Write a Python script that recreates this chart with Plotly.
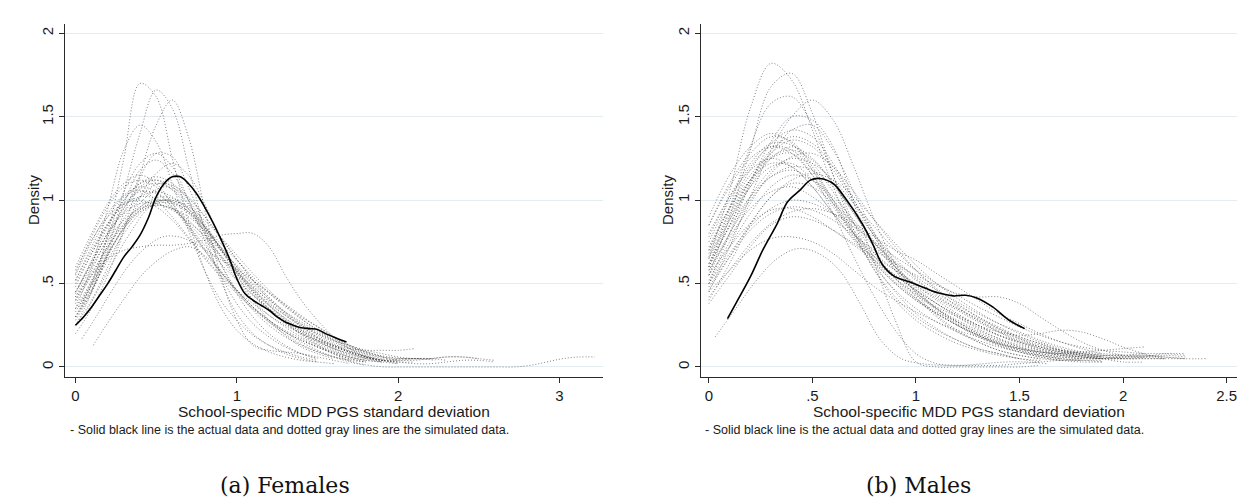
import plotly.graph_objects as go

# ---------------- data ----------------
# Females: actual data (solid black)
female_actual_x = [0, 0.05, 0.1, 0.15, 0.2, 0.25, 0.3, 0.35, 0.4, 0.45, 0.5, 0.55, 0.6, 0.65,
                   0.7, 0.75, 0.8, 0.85, 0.9, 0.95, 1.0, 1.05, 1.1, 1.15, 1.2, 1.25, 1.3, 1.35,
                   1.4, 1.45, 1.5, 1.55, 1.6, 1.65, 1.68]
female_actual_y = [0.25, 0.30, 0.36, 0.43, 0.50, 0.58, 0.66, 0.72, 0.79, 0.89, 1.02, 1.10, 1.14, 1.14,
                   1.10, 1.04, 0.96, 0.87, 0.77, 0.66, 0.53, 0.44, 0.40, 0.37, 0.34, 0.30, 0.27, 0.25,
                   0.235, 0.23, 0.225, 0.20, 0.18, 0.16, 0.15]

# Females: simulated densities (start x, values every 0.1)
female_sim_start = [0.00, 0.00, 0.03, 0.00, 0.00, 0.05, 0.00, 0.00, 0.00, 0.02, 0.00, 0.00, 0.00,
                    0.05, 0.00, 0.00, 0.00, 0.00, 0.00, 0.00, 0.00, 0.00, 0.11, 0.04, 0.00,
                    0.00, 0.02, 0.00, 0.00, 0.04, 0.00, 0.00, 0.00, 0.00]
female_sim = [
    [0.45, 0.62, 0.80, 0.93, 1.02, 1.05, 1.02, 0.93, 0.80, 0.66, 0.52, 0.40, 0.31, 0.24, 0.18, 0.13, 0.09, 0.06, 0.04, 0.03, 0.02],
    [0.55, 0.75, 0.92, 1.03, 1.08, 1.05, 0.96, 0.83, 0.70, 0.57, 0.45, 0.35, 0.27, 0.21, 0.16, 0.12, 0.08, 0.05, 0.03],
    [0.35, 0.52, 0.72, 0.88, 0.98, 1.02, 1.00, 0.92, 0.80, 0.67, 0.54, 0.43, 0.34, 0.26, 0.19, 0.14, 0.10, 0.07, 0.05, 0.04, 0.05, 0.05, 0.04],
    [0.40, 0.58, 0.78, 0.95, 1.08, 1.12, 1.08, 0.98, 0.84, 0.70, 0.56, 0.44, 0.34, 0.26, 0.20, 0.14, 0.10, 0.06, 0.04],
    [0.50, 0.68, 0.85, 0.98, 1.05, 1.04, 0.96, 0.85, 0.73, 0.62, 0.52, 0.43, 0.35, 0.28, 0.22, 0.17, 0.12, 0.09, 0.06, 0.04, 0.03, 0.02, 0.02, 0.03, 0.04, 0.04, 0.03],
    [0.30, 0.48, 0.66, 0.82, 0.95, 1.00, 0.98, 0.90, 0.78, 0.65, 0.53, 0.42, 0.33, 0.26, 0.20, 0.15, 0.11, 0.08, 0.05],
    [0.60, 0.80, 0.98, 1.10, 1.15, 1.10, 0.98, 0.84, 0.70, 0.57, 0.46, 0.36, 0.28, 0.21, 0.15, 0.10, 0.06, 0.03, 0.01],
    [0.42, 0.60, 0.76, 0.88, 0.95, 0.97, 0.95, 0.90, 0.82, 0.72, 0.60, 0.49, 0.39, 0.31, 0.24, 0.18, 0.13, 0.09, 0.06, 0.04, 0.03],
    [0.38, 0.55, 0.72, 0.86, 0.96, 1.00, 0.99, 0.93, 0.83, 0.72, 0.60, 0.50, 0.41, 0.33, 0.26, 0.20, 0.15, 0.11, 0.08, 0.06, 0.05, 0.05, 0.05],
    [0.48, 0.66, 0.84, 0.98, 1.08, 1.10, 1.05, 0.95, 0.82, 0.68, 0.55, 0.43, 0.33, 0.25, 0.18, 0.12, 0.07, 0.03, 0.01, 0.0, 0.0, 0.0, 0.0, 0.0, 0.0, 0.0, 0.0, 0.0, 0.01, 0.03, 0.05, 0.06, 0.06],
    [0.52, 0.72, 0.90, 1.02, 1.06, 1.00, 0.90, 0.78, 0.66, 0.55, 0.46, 0.38, 0.31, 0.25, 0.20, 0.16, 0.13, 0.11, 0.10, 0.10, 0.10, 0.11],
    [0.33, 0.50, 0.68, 0.83, 0.93, 0.97, 0.95, 0.88, 0.78, 0.67, 0.57, 0.48, 0.40, 0.33, 0.27, 0.21, 0.16, 0.12, 0.08, 0.05, 0.04, 0.04, 0.05, 0.06, 0.06, 0.05],
    [0.58, 0.76, 0.90, 0.98, 1.00, 0.96, 0.88, 0.77, 0.65, 0.54, 0.44, 0.35, 0.28, 0.22, 0.17, 0.12, 0.08, 0.05, 0.03],
    [0.40, 0.58, 0.76, 0.92, 1.03, 1.08, 1.05, 0.96, 0.84, 0.71, 0.58, 0.46, 0.36, 0.28, 0.21, 0.15, 0.11, 0.07, 0.05],
    [0.45, 0.63, 0.80, 0.92, 0.98, 0.98, 0.94, 0.87, 0.79, 0.70, 0.61, 0.52, 0.44, 0.37, 0.30, 0.24, 0.18, 0.13, 0.09, 0.06, 0.04],
    [0.25, 0.45, 0.80, 1.25, 1.70, 1.62, 1.25, 0.88, 0.58, 0.36, 0.22, 0.14, 0.09, 0.06, 0.04, 0.03, 0.02],
    [0.28, 0.45, 0.70, 1.05, 1.40, 1.66, 1.55, 1.20, 0.82, 0.52, 0.32, 0.20, 0.13, 0.08, 0.05, 0.03],
    [0.20, 0.35, 0.55, 0.82, 1.15, 1.45, 1.60, 1.38, 0.95, 0.55, 0.28, 0.13, 0.10, 0.09, 0.08, 0.06, 0.04, 0.02],
    [0.35, 0.60, 0.95, 1.30, 1.45, 1.35, 1.10, 0.82, 0.58, 0.40, 0.28, 0.19, 0.13, 0.09, 0.06, 0.04],
    [0.30, 0.50, 0.78, 1.05, 1.22, 1.28, 1.20, 1.00, 0.76, 0.55, 0.38, 0.26, 0.18, 0.12, 0.08, 0.05],
    [0.25, 0.40, 0.60, 0.82, 1.02, 1.16, 1.22, 1.15, 0.98, 0.76, 0.56, 0.40, 0.28, 0.19, 0.12, 0.08, 0.05],
    [0.30, 0.45, 0.68, 0.92, 1.14, 1.28, 1.26, 1.08, 0.84, 0.62, 0.44, 0.30, 0.20, 0.13, 0.08, 0.05],
    [0.13, 0.28, 0.42, 0.55, 0.64, 0.70, 0.72, 0.66, 0.56, 0.45, 0.35, 0.26, 0.19, 0.13, 0.09, 0.06, 0.04],
    [0.17, 0.32, 0.48, 0.62, 0.72, 0.78, 0.78, 0.74, 0.68, 0.62, 0.56, 0.49, 0.42, 0.35, 0.28, 0.22, 0.16, 0.11, 0.08, 0.05],
    [0.42, 0.55, 0.65, 0.70, 0.72, 0.73, 0.73, 0.74, 0.76, 0.79, 0.80, 0.80, 0.72, 0.55, 0.40, 0.28, 0.18, 0.11, 0.06, 0.03],
    [0.48, 0.68, 0.86, 1.00, 1.10, 1.12, 1.06, 0.95, 0.81, 0.67, 0.54, 0.43, 0.34, 0.27, 0.21, 0.16, 0.12, 0.09, 0.06, 0.04, 0.03, 0.03],
    [0.36, 0.55, 0.75, 0.92, 1.04, 1.10, 1.08, 1.00, 0.88, 0.75, 0.62, 0.50, 0.40, 0.31, 0.24, 0.18, 0.13, 0.09, 0.06, 0.04],
    [0.52, 0.70, 0.86, 0.97, 1.02, 1.01, 0.95, 0.86, 0.76, 0.66, 0.56, 0.46, 0.37, 0.29, 0.22, 0.16, 0.11, 0.07, 0.05, 0.04, 0.04, 0.05, 0.05, 0.04],
    [0.44, 0.64, 0.84, 1.00, 1.10, 1.14, 1.10, 1.00, 0.86, 0.71, 0.57, 0.45, 0.35, 0.27, 0.20, 0.15, 0.11, 0.08, 0.05, 0.03],
    [0.38, 0.56, 0.74, 0.88, 0.97, 1.00, 0.97, 0.90, 0.80, 0.70, 0.60, 0.50, 0.41, 0.33, 0.26, 0.20, 0.15, 0.11, 0.08, 0.06, 0.05, 0.05],
    [0.56, 0.78, 0.96, 1.08, 1.12, 1.08, 0.98, 0.85, 0.71, 0.58, 0.46, 0.36, 0.28, 0.21, 0.16, 0.12, 0.09, 0.06, 0.04, 0.03],
    [0.40, 0.56, 0.72, 0.85, 0.94, 0.99, 1.00, 0.96, 0.88, 0.78, 0.67, 0.56, 0.46, 0.37, 0.29, 0.22, 0.16, 0.11, 0.07, 0.04, 0.02],
    [0.30, 0.46, 0.64, 0.80, 0.92, 0.98, 0.98, 0.92, 0.82, 0.70, 0.58, 0.47, 0.38, 0.31, 0.25, 0.20, 0.16, 0.13, 0.10, 0.08, 0.06, 0.05, 0.05, 0.06, 0.06, 0.05, 0.04],
    [0.35, 0.52, 0.74, 0.98, 1.18, 1.24, 1.16, 1.00, 0.80, 0.62, 0.46, 0.34, 0.25, 0.18, 0.13, 0.09, 0.06, 0.04, 0.03],
]

# Males: actual data (solid black)
male_actual_x = [0.09, 0.13, 0.2, 0.26, 0.33, 0.38, 0.44, 0.49, 0.535, 0.6, 0.66, 0.74, 0.79, 0.84,
                 0.9, 0.97, 1.05, 1.12, 1.18, 1.24, 1.29, 1.37, 1.45, 1.525]
male_actual_y = [0.29, 0.38, 0.54, 0.70, 0.86, 0.99, 1.06, 1.12, 1.13, 1.10, 1.01, 0.86, 0.74, 0.61,
                 0.54, 0.51, 0.47, 0.44, 0.426, 0.43, 0.415, 0.36, 0.28, 0.23]

# Males: simulated densities (start x, values every 0.1)
male_sim_start = [0.00, 0.00, 0.00, 0.00, 0.00, 0.03, 0.00, 0.00, 0.00, 0.00, 0.00, 0.00, 0.00,
                  0.00, 0.00, 0.00, 0.00, 0.00, 0.00, 0.00, 0.00, 0.00, 0.00, 0.00, 0.00, 0.00,
                  0.00, 0.00, 0.00, 0.00, 0.00, 0.00, 0.00, 0.00, 0.00]
male_sim = [
    [0.65, 1.05, 1.55, 1.82, 1.72, 1.42, 1.08, 0.80, 0.58, 0.42, 0.30, 0.22, 0.16, 0.11, 0.08, 0.05, 0.03],
    [0.55, 0.90, 1.30, 1.68, 1.76, 1.52, 1.15, 0.82, 0.58, 0.40, 0.28, 0.20, 0.14, 0.10, 0.07, 0.05],
    [0.60, 0.95, 1.32, 1.58, 1.62, 1.45, 1.15, 0.86, 0.62, 0.45, 0.32, 0.23, 0.16, 0.11, 0.08, 0.05, 0.04],
    [0.45, 0.72, 1.02, 1.30, 1.50, 1.60, 1.48, 1.20, 0.88, 0.62, 0.44, 0.31, 0.22, 0.15, 0.10, 0.07, 0.05],
    [0.50, 0.80, 1.10, 1.35, 1.50, 1.48, 1.32, 0.98, 0.62, 0.28, 0.03, 0.0, 0.0, 0.0, 0.0, 0.0, 0.01],
    [0.18, 0.35, 0.52, 0.65, 0.71, 0.68, 0.58, 0.38, 0.16, 0.05, 0.02, 0.01, 0.01, 0.02, 0.03, 0.03, 0.02],
    [0.45, 0.58, 0.70, 0.77, 0.78, 0.75, 0.68, 0.58, 0.48, 0.40, 0.33, 0.27, 0.22, 0.18, 0.14, 0.11, 0.09, 0.08, 0.07, 0.06, 0.05, 0.05, 0.05, 0.05],
    [0.75, 1.00, 1.20, 1.32, 1.30, 1.18, 1.00, 0.82, 0.66, 0.53, 0.43, 0.35, 0.28, 0.22, 0.17, 0.13, 0.10, 0.08, 0.06, 0.05],
    [0.60, 0.85, 1.08, 1.25, 1.32, 1.25, 1.10, 0.92, 0.75, 0.60, 0.48, 0.38, 0.30, 0.23, 0.17, 0.12, 0.09, 0.07, 0.06, 0.05, 0.05, 0.06, 0.08, 0.08],
    [0.85, 1.10, 1.28, 1.38, 1.35, 1.20, 1.00, 0.80, 0.63, 0.50, 0.40, 0.32, 0.25, 0.19, 0.14, 0.10, 0.07, 0.05, 0.04],
    [0.50, 0.72, 0.92, 1.08, 1.15, 1.12, 1.02, 0.88, 0.74, 0.62, 0.52, 0.44, 0.37, 0.30, 0.24, 0.18, 0.14, 0.10, 0.08, 0.06, 0.05, 0.05, 0.05],
    [0.65, 0.88, 1.08, 1.20, 1.22, 1.12, 0.96, 0.80, 0.66, 0.55, 0.46, 0.38, 0.31, 0.25, 0.19, 0.14, 0.10, 0.07, 0.05],
    [0.40, 0.62, 0.85, 1.02, 1.10, 1.08, 0.98, 0.86, 0.74, 0.63, 0.54, 0.46, 0.39, 0.32, 0.26, 0.21, 0.16, 0.12, 0.09, 0.07, 0.06, 0.06, 0.07, 0.06],
    [0.70, 0.95, 1.15, 1.28, 1.42, 1.45, 1.30, 1.05, 0.80, 0.60, 0.45, 0.34, 0.25, 0.18, 0.13, 0.09, 0.07, 0.05],
    [0.55, 0.80, 1.02, 1.18, 1.25, 1.22, 1.12, 0.98, 0.84, 0.70, 0.58, 0.47, 0.38, 0.30, 0.23, 0.17, 0.12, 0.09, 0.07, 0.05],
    [0.80, 1.02, 1.18, 1.25, 1.20, 1.08, 0.92, 0.77, 0.64, 0.53, 0.44, 0.36, 0.30, 0.24, 0.19, 0.15, 0.12, 0.10, 0.09, 0.08, 0.07, 0.06],
    [0.48, 0.66, 0.82, 0.92, 0.96, 0.94, 0.88, 0.79, 0.70, 0.62, 0.55, 0.49, 0.44, 0.42, 0.42, 0.38, 0.30, 0.22, 0.15, 0.10, 0.07],
    [0.55, 0.72, 0.86, 0.94, 0.95, 0.90, 0.82, 0.73, 0.64, 0.55, 0.46, 0.38, 0.31, 0.25, 0.21, 0.19, 0.20, 0.22, 0.21, 0.17, 0.12, 0.08, 0.05],
    [0.42, 0.58, 0.74, 0.86, 0.93, 0.95, 0.92, 0.86, 0.78, 0.70, 0.64, 0.56, 0.48, 0.40, 0.32, 0.26, 0.20, 0.15, 0.11, 0.08],
    [0.62, 0.84, 1.02, 1.14, 1.18, 1.12, 1.00, 0.86, 0.72, 0.60, 0.49, 0.40, 0.32, 0.25, 0.19, 0.15, 0.11, 0.09, 0.08, 0.07, 0.07, 0.07, 0.06, 0.05, 0.05],
    [0.72, 0.95, 1.12, 1.22, 1.20, 1.08, 0.92, 0.76, 0.62, 0.50, 0.40, 0.32, 0.25, 0.19, 0.14, 0.11, 0.09, 0.08, 0.09, 0.10, 0.11, 0.12],
    [0.90, 1.15, 1.32, 1.40, 1.34, 1.18, 0.98, 0.78, 0.60, 0.46, 0.35, 0.27, 0.21, 0.16, 0.12, 0.09, 0.06, 0.04],
    [0.38, 0.55, 0.72, 0.85, 0.90, 0.88, 0.82, 0.74, 0.66, 0.58, 0.50, 0.42, 0.35, 0.29, 0.23, 0.18, 0.14, 0.10, 0.07, 0.05, 0.03, 0.03],
    [0.68, 0.92, 1.12, 1.26, 1.30, 1.24, 1.10, 0.92, 0.74, 0.58, 0.45, 0.35, 0.27, 0.20, 0.15, 0.11, 0.08, 0.06, 0.05, 0.05, 0.06, 0.07, 0.06, 0.05],
    [0.58, 0.78, 0.95, 1.05, 1.08, 1.02, 0.92, 0.80, 0.68, 0.58, 0.49, 0.41, 0.34, 0.27, 0.21, 0.16, 0.12, 0.09, 0.07, 0.06],
    [0.60, 0.85, 1.10, 1.25, 1.28, 1.15, 0.92, 0.66, 0.42, 0.22, 0.08, 0.02, 0.01, 0.01, 0.01, 0.02, 0.03, 0.04, 0.04, 0.03],
    [0.78, 1.02, 1.22, 1.34, 1.33, 1.22, 1.05, 0.86, 0.68, 0.53, 0.41, 0.32, 0.25, 0.19, 0.14, 0.10, 0.07, 0.05, 0.04, 0.04],
    [0.66, 0.90, 1.12, 1.28, 1.36, 1.32, 1.18, 0.98, 0.78, 0.60, 0.46, 0.35, 0.27, 0.20, 0.15, 0.11, 0.08, 0.06, 0.05, 0.05, 0.06, 0.06, 0.05],
    [0.52, 0.75, 0.98, 1.16, 1.26, 1.28, 1.20, 1.05, 0.88, 0.72, 0.58, 0.46, 0.36, 0.28, 0.21, 0.15, 0.11, 0.08, 0.06, 0.05],
    [0.85, 1.08, 1.25, 1.32, 1.28, 1.15, 0.98, 0.80, 0.64, 0.51, 0.41, 0.33, 0.27, 0.21, 0.16, 0.12, 0.09, 0.07, 0.06, 0.05, 0.05],
    [0.46, 0.66, 0.86, 1.02, 1.12, 1.16, 1.12, 1.02, 0.88, 0.74, 0.61, 0.50, 0.41, 0.33, 0.26, 0.20, 0.15, 0.11, 0.08, 0.06],
    [0.70, 0.96, 1.18, 1.34, 1.42, 1.38, 1.22, 1.00, 0.78, 0.58, 0.42, 0.30, 0.21, 0.15, 0.10, 0.07, 0.05, 0.04, 0.04],
    [0.58, 0.80, 1.00, 1.14, 1.20, 1.18, 1.08, 0.94, 0.79, 0.65, 0.53, 0.43, 0.35, 0.28, 0.22, 0.17, 0.13, 0.10, 0.08, 0.07, 0.07, 0.08, 0.08, 0.07],
    [0.62, 0.88, 1.12, 1.30, 1.38, 1.34, 1.20, 1.00, 0.80, 0.62, 0.47, 0.35, 0.26, 0.19, 0.13, 0.09, 0.06, 0.04, 0.03, 0.03],
    [0.50, 0.68, 0.84, 0.95, 1.00, 0.98, 0.92, 0.84, 0.75, 0.66, 0.58, 0.50, 0.43, 0.36, 0.30, 0.24, 0.19, 0.15, 0.12, 0.10, 0.09, 0.08],
]

STEP = 0.1
y_tickvals = [0, 0.5, 1, 1.5, 2]
y_ticktext = ["0", ".5", "1", "1.5", "2"]
female_x_tickvals = [0, 1, 2, 3]
female_x_ticktext = ["0", "1", "2", "3"]
male_x_tickvals = [0, 0.5, 1, 1.5, 2, 2.5]
male_x_ticktext = ["0", ".5", "1", "1.5", "2", "2.5"]

x_title = "School-specific MDD PGS standard deviation"
note = "- Solid black line is the actual data and dotted gray lines are the simulated data."
captions = ["(a) Females", "(b) Males"]

# ---------------- figure ----------------
W, H = 1241, 502
fig = go.Figure()

SIM_LINE = dict(color="rgba(55,55,55,0.62)", width=1, dash="1px,2px")
ACT_LINE = dict(color="black", width=1.6)


def add_panel(sims, starts, ax, ay, xa, ya):
    for st, vals in zip(starts, sims):
        xs = [round(st + STEP * i, 4) for i in range(len(vals))]
        fig.add_trace(go.Scatter(x=xs, y=vals, mode="lines", line=SIM_LINE,
                                 line_shape="spline", xaxis=xa, yaxis=ya,
                                 hoverinfo="skip"))
    fig.add_trace(go.Scatter(x=ax, y=ay, mode="lines", line=ACT_LINE,
                             line_shape="spline", xaxis=xa, yaxis=ya))


add_panel(female_sim, female_sim_start, female_actual_x, female_actual_y, "x", "y")
add_panel(male_sim, male_sim_start, male_actual_x, male_actual_y, "x2", "y2")

TICKFONT = dict(family="Liberation Sans, Arial, sans-serif", size=15, color="#1a1a1a")
common_x = dict(showgrid=False, zeroline=False, showline=True, linecolor="#2a2a2a", linewidth=1,
                ticks="outside", ticklen=5, tickwidth=1, tickcolor="#2a2a2a", tickfont=TICKFONT)
common_y = dict(showgrid=True, gridcolor="#e4ecef", gridwidth=1, zeroline=False, showline=True,
                linecolor="#2a2a2a", linewidth=1, ticks="outside", ticklen=5, tickwidth=1,
                tickcolor="#2a2a2a", tickfont=TICKFONT, tickangle=-90,
                tickvals=y_tickvals, ticktext=y_ticktext, range=[-0.06, 2.056])

ydom = [1 - 377 / H, 1 - 24 / H]
fig.update_layout(
    width=W, height=H, margin=dict(l=0, r=0, t=0, b=0),
    paper_bgcolor="white", plot_bgcolor="white", showlegend=False,
    xaxis=dict(domain=[65 / W, 603 / W], anchor="y", range=[-0.065, 3.27],
               tickvals=female_x_tickvals, ticktext=female_x_ticktext, **common_x),
    yaxis=dict(domain=ydom, anchor="x", **common_y),
    xaxis2=dict(domain=[701 / W, 1237 / W], anchor="y2", range=[-0.038, 2.55],
                tickvals=male_x_tickvals, ticktext=male_x_ticktext, **common_x),
    yaxis2=dict(domain=ydom, anchor="x2", **common_y),
)

LBL = dict(family="Liberation Sans, Arial, sans-serif", color="#1a1a1a")
ann = []
for cx, lx, ylab_x, cap_x, cap in [(334, 68, 33, 285, captions[0]), (969, 703, 667, 918, captions[1])]:
    ann.append(dict(x=cx / W, y=1 - 411 / H, xref="paper", yref="paper", text=x_title,
                    showarrow=False, font=dict(size=15.5, **LBL), xanchor="center", yanchor="middle"))
    ann.append(dict(x=lx / W, y=1 - 430 / H, xref="paper", yref="paper", text=note,
                    showarrow=False, font=dict(size=12.5, **LBL), xanchor="left", yanchor="middle"))
    ann.append(dict(x=ylab_x / W, y=1 - 200 / H, xref="paper", yref="paper", text="Density",
                    showarrow=False, textangle=-90, font=dict(size=15, **LBL),
                    xanchor="center", yanchor="middle"))
    ann.append(dict(x=cap_x / W, y=1 - 485 / H, xref="paper", yref="paper", text=cap,
                    showarrow=False, font=dict(family="DejaVu Serif, serif", size=22, color="#111"),
                    xanchor="center", yanchor="middle"))
fig.update_layout(annotations=ann)

fig.write_html("out.html", config={"displayModeBar": False},
               post_script="document.body.style.margin='0px';")
